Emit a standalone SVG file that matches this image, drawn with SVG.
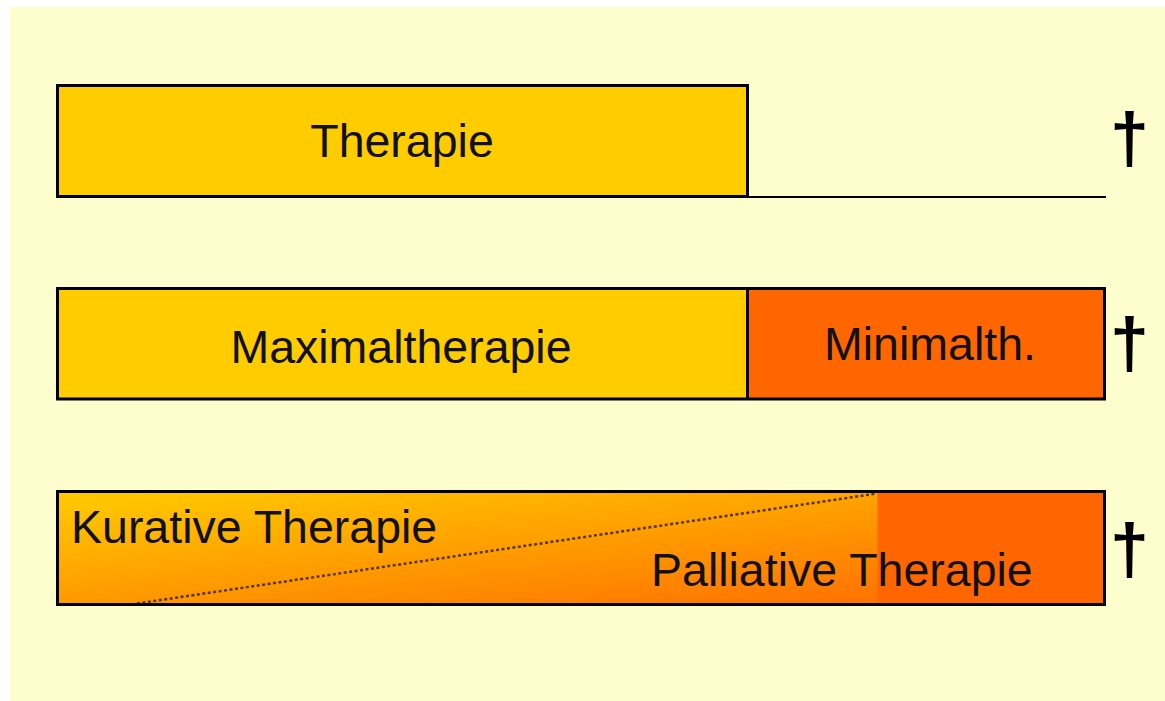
<svg xmlns="http://www.w3.org/2000/svg" width="1165" height="701" viewBox="0 0 1165 701">
  <defs>
    <style>
      .bar { stroke: #000; stroke-width: 3; }
      .lbl { font-family: "Liberation Sans", Arial, sans-serif; font-size: 46.5px; fill: #111; }
      .mid { text-anchor: middle; }
      .dag { font-family: "Liberation Sans", Arial, sans-serif; font-size: 70px; font-weight: bold; fill: #000; text-anchor: middle; }
    </style>
    <linearGradient id="grad" x1="0" y1="0" x2="1" y2="1">
      <stop offset="0" stop-color="#FFCC00"/>
      <stop offset="1" stop-color="#FF6600"/>
    </linearGradient>
  </defs>
  <rect x="0" y="0" width="1165" height="701" fill="#FFFFFF"/>
  <rect x="10" y="7" width="1155" height="694" fill="#FDFDCE"/>

  <g id="row1">
    <rect class="bar" x="57.5" y="85.5" width="690" height="111" fill="#FFCC00"/>
    <text class="lbl mid" x="402" y="157">Therapie</text>
    <text class="dag" x="1129.5" y="162">†</text>
  </g>

  <g id="row2">
    <rect x="57.5" y="288.5" width="690" height="110.5" fill="#FFCC00"/>
    <rect x="747.5" y="288.5" width="357" height="110.5" fill="#FF6600"/>
    <rect class="bar" x="57.5" y="288.5" width="1047" height="110.5" fill="none"/>
    <line x1="747.5" y1="288.5" x2="747.5" y2="399" stroke="#000" stroke-width="3"/>
    <text class="lbl mid" x="401" y="363">Maximaltherapie</text>
    <text class="lbl mid" x="930" y="360">Minimalth.</text>
    <text class="dag" x="1129.5" y="367">†</text>
  </g>

  <g id="row3">
    <rect x="57.5" y="491.5" width="1047" height="113" fill="url(#grad)"/>
    <rect x="877.5" y="491.5" width="227" height="113" fill="#FF6600"/>
    <line x1="137" y1="603.5" x2="877" y2="493.5" stroke="#3a2600" stroke-width="2.5" stroke-dasharray="3 2.5" opacity="0.85"/>
    <rect class="bar" x="57.5" y="491.5" width="1047" height="113" fill="none"/>
    <text class="lbl" x="71" y="543">Kurative Therapie</text>
    <text class="lbl" x="651" y="586">Palliative Therapie</text>
    <text class="dag" x="1129.5" y="573">†</text>
  </g>

  <g id="connectors">
    <line x1="747" y1="197" x2="1106" y2="197" stroke="#000" stroke-width="2"/>
  </g>
</svg>
